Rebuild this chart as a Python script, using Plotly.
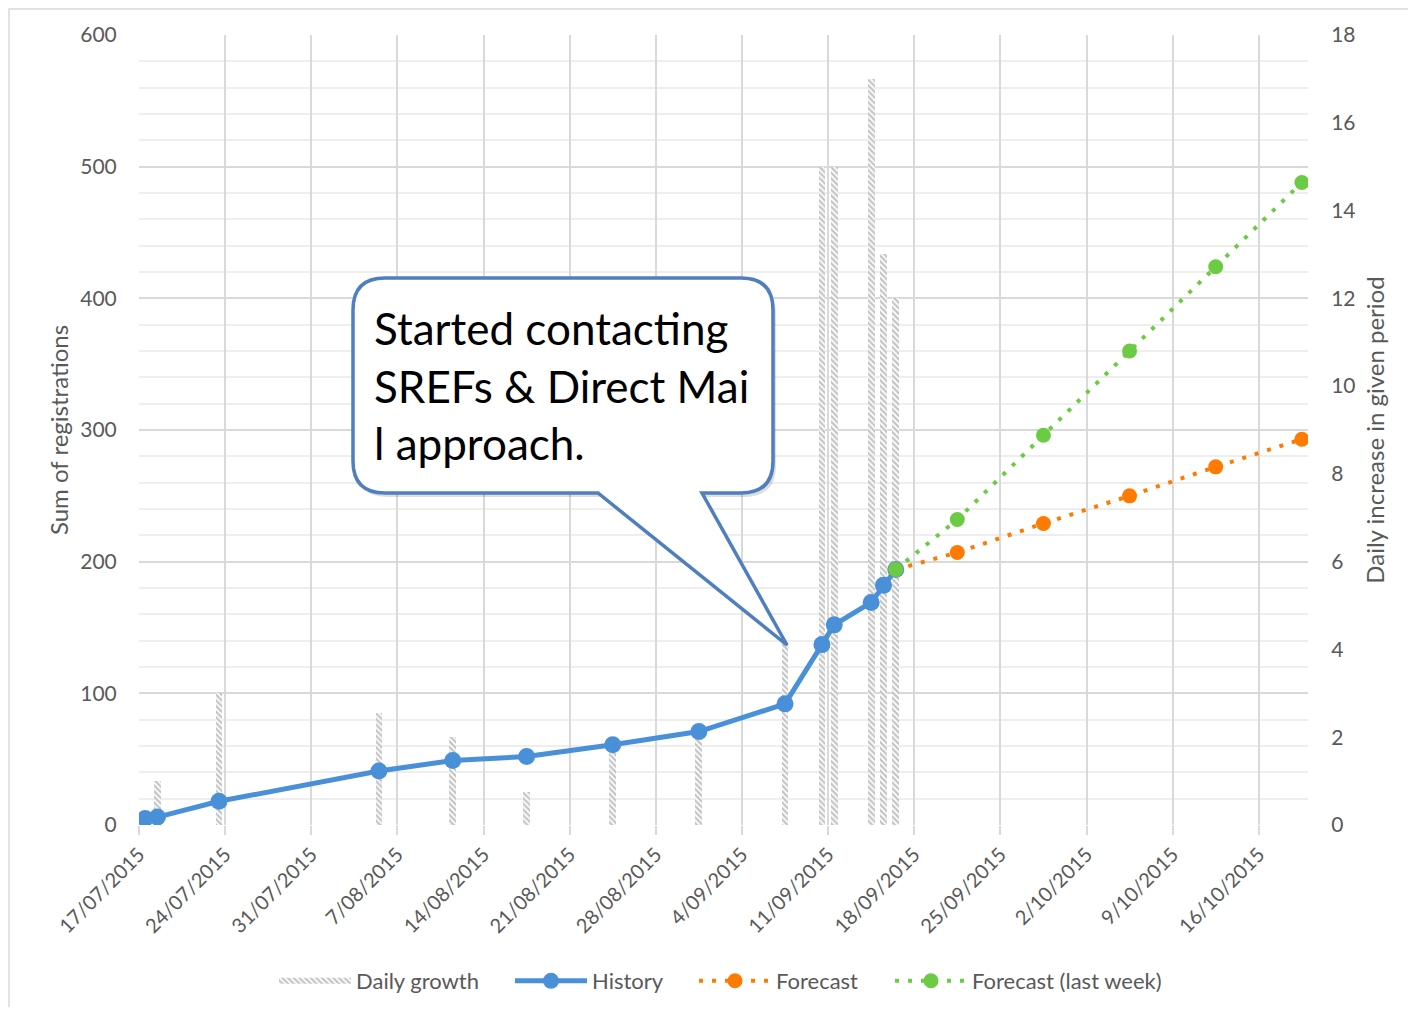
import pandas as pd
import plotly.graph_objects as go

# ---------------- data ----------------
hist_dates = ["17/07/2015", "18/07/2015", "23/07/2015", "05/08/2015", "11/08/2015",
              "17/08/2015", "24/08/2015", "31/08/2015", "07/09/2015", "10/09/2015",
              "11/09/2015", "14/09/2015", "15/09/2015", "16/09/2015"]
hist_values = [5, 6, 18, 41, 49, 52, 61, 71, 92, 137, 152, 169, 182, 194]

bar_dates = ["18/07/2015", "23/07/2015", "05/08/2015", "11/08/2015", "17/08/2015",
             "24/08/2015", "31/08/2015", "07/09/2015", "10/09/2015", "11/09/2015",
             "14/09/2015", "15/09/2015", "16/09/2015"]
bar_values = [1, 3, 2.56, 2, 0.75, 1.8, 2, 4.2, 15, 15, 17, 13, 12]

fc_dates = ["16/09/2015", "21/09/2015", "28/09/2015", "05/10/2015", "12/10/2015", "19/10/2015"]
fc_values = [194, 207, 229, 250, 272, 293]
fc_week_values = [194, 232, 296, 360, 424, 488]

callout_lines = ["Started contacting", "SREFs & Direct Mai", "l approach."]

# ---------------- styling ----------------
BLUE = "#4A90D9"
ORANGE = "#FF7A00"
GREEN = "#6CCB44"
GREY_TXT = "#595959"
FONT = "Lato"
HATCH = dict(shape="\\", fgcolor="#8a8a8a", bgcolor="white", size=4, solidity=0.55)

# page geometry (the page body has an 8px margin)
OFF = 8
W, H = 1416 - 2 * OFF, 1015 - 2 * OFF
PL, PR, PT, PB = 139, 1308, 35, 825   # plot area in page pixels


def px(x):
    return (x - PL) / (PR - PL)


def py(y):
    return (PB - y) / (PB - PT)


def to_x(ds):
    # Excel places each day's point in the middle of its day slot
    return pd.to_datetime(ds, format="%d/%m/%Y") + pd.Timedelta(hours=12)


fig = go.Figure()

# bars on the primary (right-hand) axis so that the lines are drawn above them
fig.add_trace(go.Bar(
    x=to_x(bar_dates), y=bar_values, name="Daily growth", yaxis="y", showlegend=False,
    width=0.56 * 86400000,
    marker=dict(color="white", line=dict(width=0), pattern=HATCH),
))
# legend stand-in for the hatched bars (wide swatch)
fig.add_trace(go.Scatter(
    x=[None], y=[None], name="Daily growth", yaxis="y", mode="none",
    fill="toself", fillcolor="white", fillpattern=HATCH, legend="legend",
))
fig.add_trace(go.Scatter(
    x=to_x(hist_dates), y=hist_values, name="History", mode="lines+markers", yaxis="y2",
    line=dict(color=BLUE, width=5), marker=dict(color=BLUE, size=17), legend="legend2",
))
fig.add_trace(go.Scatter(
    x=to_x(fc_dates), y=fc_values, name="Forecast", mode="lines+markers", yaxis="y2",
    line=dict(color=ORANGE, width=4, dash="4px,9px"), marker=dict(color=ORANGE, size=15),
    legend="legend3",
))
fig.add_trace(go.Scatter(
    x=to_x(fc_dates), y=fc_week_values, name="Forecast (last week)", mode="lines+markers",
    yaxis="y2",
    line=dict(color=GREEN, width=4, dash="4px,9px"), marker=dict(color=GREEN, size=15),
    legend="legend4",
))


def callout_path(dx=0, dy=0):
    L, T, R, B, r = 353 + dx, 278 + dy, 773 + dx, 493 + dy, 32
    b1, b2, tx, ty = 598 + dx, 702 + dx, 787 + dx, 645 + dy
    pts = [
        ("M", L + r, T), ("L", R - r, T), ("Q", R, T, R, T + r), ("L", R, B - r),
        ("Q", R, B, R - r, B), ("L", b2, B), ("L", tx, ty), ("L", b1, B),
        ("L", L + r, B), ("Q", L, B, L, B - r), ("L", L, T + r), ("Q", L, T, L + r, T),
    ]
    out = []
    for p in pts:
        coords = p[1:]
        s = [f"{px(coords[i]):.5f},{py(coords[i + 1]):.5f}" for i in range(0, len(coords), 2)]
        out.append(p[0] + " " + " ".join(s))
    return " ".join(out) + " Z"


shapes = [
    dict(type="rect", xref="paper", yref="paper", x0=px(9), y0=py(9), x1=px(1430), y1=py(1030),
         line=dict(color="#d9d9d9", width=1.5), layer="below"),
    dict(type="path", xref="paper", yref="paper", path=callout_path(3, 4),
         fillcolor="rgba(0,0,0,0.13)", line=dict(width=0)),
    dict(type="path", xref="paper", yref="paper", path=callout_path(),
         fillcolor="white", line=dict(color="#4F7FBD", width=3.5)),
]

annotations = []
for i, t in enumerate(callout_lines):
    annotations.append(dict(
        xref="paper", yref="paper", x=px(372), y=py(328 + 57.5 * i), text=t,
        showarrow=False, xanchor="left", yanchor="middle", align="left",
        font=dict(family=FONT, size=44, color="black"),
    ))


def leg(xpage):
    return dict(orientation="h", x=px(xpage), xanchor="left", y=py(981), yanchor="middle",
                font=dict(family=FONT, size=22, color=GREY_TXT), itemwidth=72,
                bgcolor="rgba(0,0,0,0)")


fig.update_layout(
    width=W, height=H,
    margin=dict(l=PL - OFF, r=(OFF + W) - PR, t=PT - OFF, b=(OFF + H) - PB, autoexpand=False),
    paper_bgcolor="white", plot_bgcolor="white",
    font=dict(family=FONT, size=20, color=GREY_TXT),
    showlegend=True,
    legend=leg(274), legend2=leg(510), legend3=leg(694), legend4=leg(890),
    bargap=0,
    xaxis=dict(
        type="date", range=["2015-07-17", "2015-10-20"],
        tick0="2015-07-17", dtick=7 * 86400000, tickformat="%-d/%m/%Y", tickangle=-45,
        showgrid=True, gridcolor="#d9d9d9", gridwidth=2,
        ticks="outside", ticklen=9, tickwidth=2, tickcolor="#d9d9d9",
        showline=False, zeroline=False, tickfont=dict(size=20),
    ),
    yaxis=dict(
        range=[0, 18], dtick=2, side="right", showgrid=False,
        zeroline=False, ticks="outside", ticklen=18, tickcolor="rgba(0,0,0,0)",
        tickfont=dict(size=21),
        title=dict(text="Daily increase in given period", standoff=12,
                   font=dict(family=FONT, size=24, color=GREY_TXT)),
    ),
    yaxis2=dict(
        range=[0, 600], dtick=100, overlaying="y", side="left",
        showgrid=True, gridcolor="#d9d9d9", gridwidth=2,
        minor=dict(dtick=20, showgrid=True, gridcolor="#eeeeee", gridwidth=1.5),
        zeroline=False, ticks="outside", ticklen=17, tickcolor="rgba(0,0,0,0)",
        tickfont=dict(size=21),
        title=dict(text="Sum of registrations", standoff=4,
                   font=dict(family=FONT, size=24, color=GREY_TXT)),
    ),
    shapes=shapes,
    annotations=annotations,
)

fig.write_html("out.html")
